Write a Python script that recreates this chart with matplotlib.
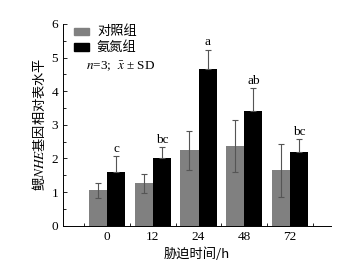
import numpy as np
import matplotlib
matplotlib.use("Agg")
import matplotlib.pyplot as plt
from matplotlib.patches import Rectangle

plt.rcParams['font.family'] = ['Liberation Serif', 'Noto Sans CJK SC']
plt.rcParams['mathtext.fontset'] = 'stix'

# data
times = ["0", "12", "24", "48", "72"]
control = [1.05, 1.26, 2.24, 2.37, 1.65]
control_sd = [0.22, 0.29, 0.57, 0.76, 0.79]
ammonia = [1.59, 2.00, 4.65, 3.42, 2.20]
ammonia_sd = [0.48, 0.33, 0.58, 0.66, 0.38]
letters = ["c", "bc", "a", "ab", "bc"]
groups = ["对照组", "氨氮组"]

x = np.arange(1, len(times) + 1)
w = 0.4
gray = "#808080"
cjk = ['Noto Sans CJK SC', 'DejaVu Sans']

fig = plt.figure(figsize=(3.44, 2.63), dpi=100)
ax = fig.add_axes([0.183, 0.142, 0.779, 0.767])

ax.bar(x - w / 2, control, w, color=gray, zorder=2)
ax.bar(x + w / 2, ammonia, w, color="black", zorder=2)
ax.errorbar(x - w / 2, control, yerr=control_sd, fmt="none", ecolor="#555555",
            elinewidth=0.8, capsize=2, capthick=0.8, zorder=3)
ax.errorbar(x + w / 2, ammonia, yerr=[np.zeros(len(x)), ammonia_sd], fmt="none",
            ecolor="#555555", elinewidth=0.8, capsize=2, capthick=0.8, zorder=3)

for xi, v, s, t in zip(x, ammonia, ammonia_sd, letters):
    ax.text(xi + w / 2, v + s + 0.04, t, ha="center", va="bottom", fontsize=9.5)

ax.set_xlim(0.03, 5.9)
ax.set_ylim(0, 6)
ax.set_xticks(x)
ax.set_xticklabels(times)
ax.set_xticks(np.arange(0.5, 6, 1), minor=True)
ax.set_yticks(range(0, 7))
ax.set_yticks(np.arange(0.5, 6, 1), minor=True)
ax.tick_params(axis="x", which="major", length=0, labelsize=9.5, pad=4)
ax.tick_params(axis="x", which="minor", direction="in", length=2.5, width=0.6)
ax.tick_params(axis="y", which="major", direction="in", length=3, width=0.6, labelsize=9.5)
ax.tick_params(axis="y", which="minor", direction="in", length=2, width=0.6)
for side in ["top", "right"]:
    ax.spines[side].set_visible(False)
for side in ["left", "bottom"]:
    ax.spines[side].set_linewidth(0.7)

ax.set_xlabel("胁迫时间/h", family=cjk, fontsize=9.5, labelpad=3)
ax.set_ylabel(r"鳃$\it{NHE}$基因相对表水平", family=cjk, fontsize=9.5, labelpad=3)

# legend drawn by hand
for yc, c, lab in zip([0.963, 0.886], [gray, "black"], groups):
    ax.add_patch(Rectangle((0.041, yc - 0.018), 0.056, 0.036, color=c,
                           transform=ax.transAxes, clip_on=False))
    ax.text(0.127, yc, lab, transform=ax.transAxes, va="center", family=cjk, fontsize=9.5)
ax.text(0.086, 0.79, r"$n$=3;  $\bar{x}$ ± SD", transform=ax.transAxes, va="center", fontsize=9.5)

plt.savefig("out.png", dpi=100)
